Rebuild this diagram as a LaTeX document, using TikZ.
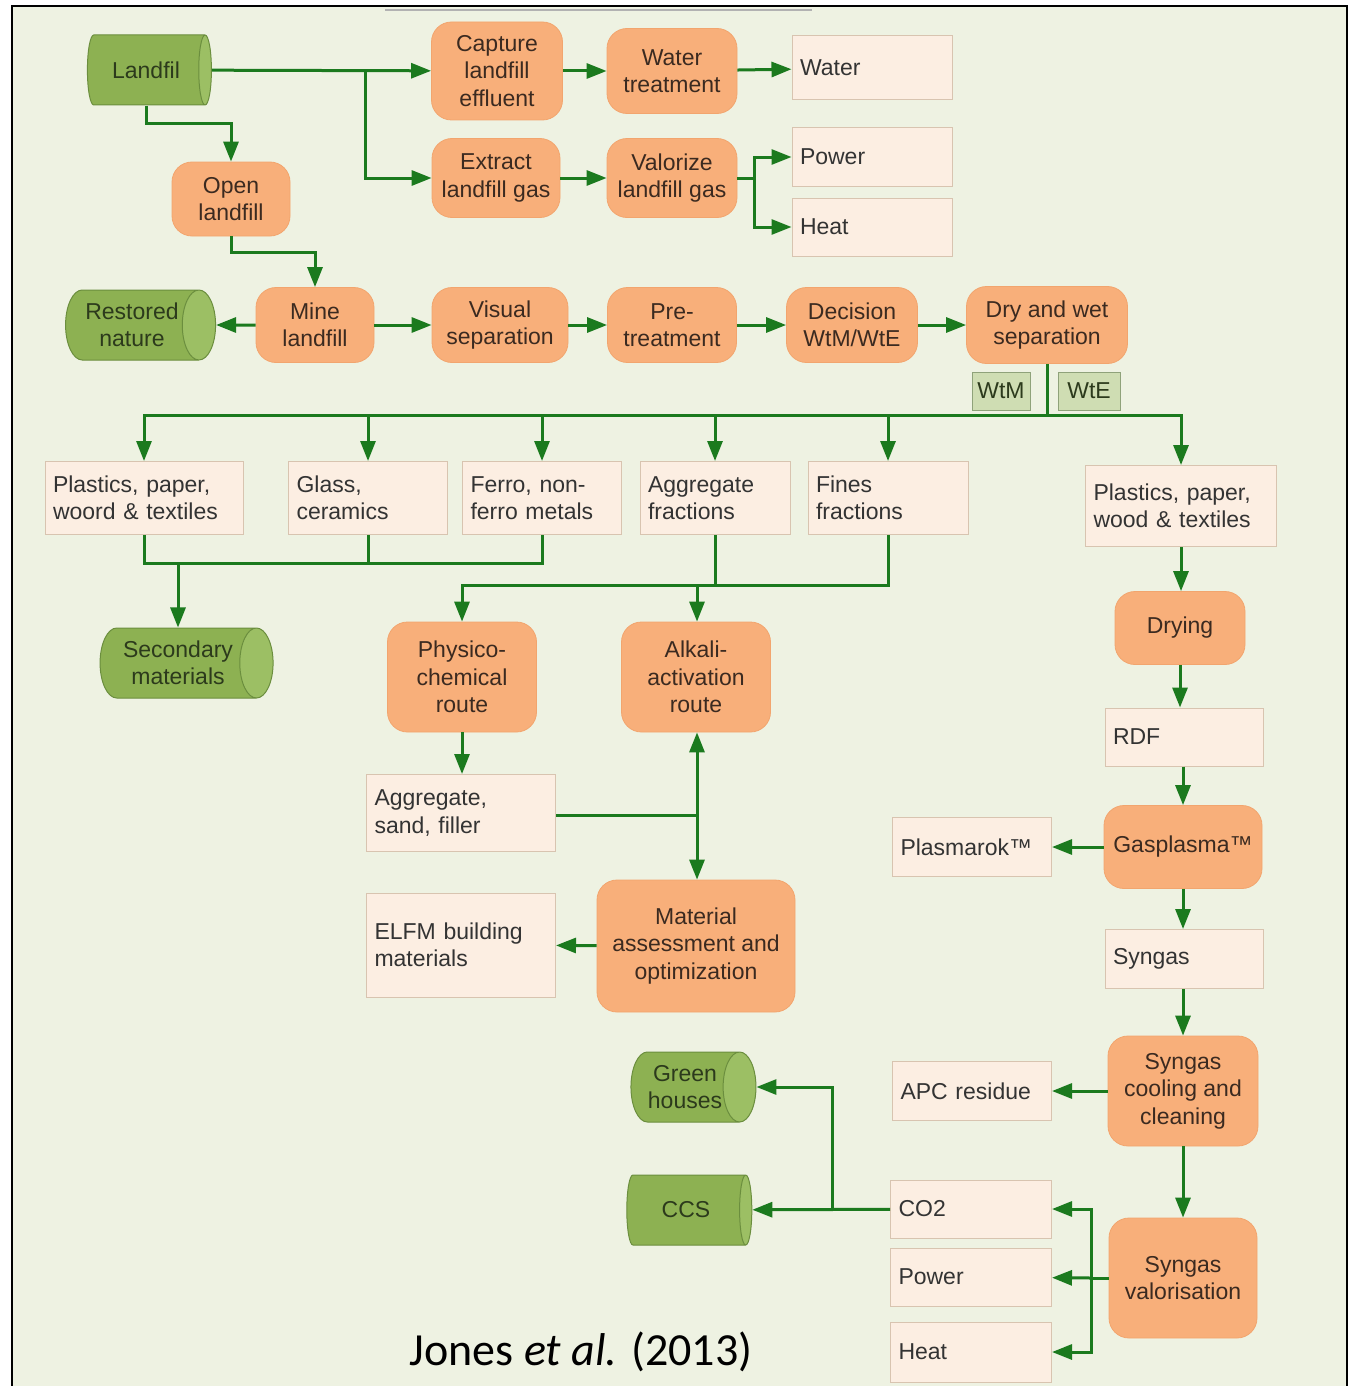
\documentclass[tikz,border=0pt]{standalone}
\usepackage{fontspec}
\setmainfont{Liberation Sans}
\newfontfamily\citefont{Carlito}
\usetikzlibrary{shapes.geometric,arrows.meta}
\definecolor{panelbg}{HTML}{EEF2E2}
\definecolor{flowgreen}{HTML}{1B7A1E}
\definecolor{procfill}{HTML}{F8AF7A}
\definecolor{procline}{HTML}{F2A56E}
\definecolor{outfill}{HTML}{FCEEE2}
\definecolor{outline}{HTML}{D8C4B0}
\definecolor{storefill}{HTML}{8DB152}
\definecolor{storeend}{HTML}{9CBF64}
\definecolor{storeline}{HTML}{6B8E3E}
\definecolor{tagfill}{HTML}{CFDDB3}
\definecolor{tagline}{HTML}{8FA27A}
\definecolor{inkbrown}{HTML}{3B2A20}
\definecolor{inkgray}{HTML}{333333}
\definecolor{inkgreen}{HTML}{2C3A1C}

\begin{document}
\begin{tikzpicture}[x=1pt,y=-1pt,
  every node/.style={font=\fontsize{23}{27.5}\selectfont, text=inkbrown},
  proc/.style={rounded corners=20pt, fill=procfill, draw=procline, line width=0.8pt, align=center, inner sep=0pt},
  outbox/.style={fill=outfill, draw=outline, line width=1pt, align=left, inner xsep=8pt, inner ysep=0pt, text=inkgray},
  store/.style={cylinder, shape aspect=0.75, cylinder uses custom fill, cylinder body fill=storefill, cylinder end fill=storeend, draw=storeline, line width=1pt, align=center, inner sep=0pt, minimum width=70pt, text=inkgreen},
  tag/.style={fill=tagfill, draw=tagline, line width=1pt, inner sep=0pt, text=inkgreen},
  flow/.style={draw=flowgreen, line width=3pt, -{Triangle[length=20pt,width=15pt]}},
  link/.style={draw=flowgreen, line width=3pt}]
\useasboundingbox (0,0) rectangle (1350,1386);
\fill[white] (0,0) rectangle (1350,1386);
\fill[panelbg] (12,6) rectangle (1347,1386);
\draw[black, line width=2.5pt] (12,1386) -- (12,6) -- (1347,6) -- (1347,1386);
\draw[gray!60, line width=2pt] (385,10) -- (812,10);

\node[store, minimum height=124pt] (landfil) at (146,70) {Landfil};
\node[proc, minimum width=131pt, minimum height=98pt] (capture) at (497,71) {Capture\\landfill\\effluent};
\node[proc, minimum width=130pt, minimum height=85pt] (watertr) at (672,71) {Water\\treatment};
\node[outbox, text width=144pt, minimum height=64pt] (water) at (872,68) {Water};
\node[proc, minimum width=128pt, minimum height=79pt] (extract) at (496,178) {Extract\\landfill gas};
\node[proc, minimum width=130pt, minimum height=79pt] (valorize) at (672,178) {Valorize\\landfill gas};
\node[outbox, text width=144pt, minimum height=59pt] (power) at (872,157) {Power};
\node[outbox, text width=144pt, minimum height=58pt] (heat) at (872,227) {Heat};
\node[proc, minimum width=118pt, minimum height=74pt] (open) at (231,199) {Open\\landfill};

\node[store, minimum height=150pt] (restored) at (132,325) {Restored\\nature};
\node[proc, minimum width=118pt, minimum height=75pt] (mine) at (315,325) {Mine\\landfill};
\node[proc, minimum width=136pt, minimum height=75pt] (visual) at (500,325) {Visual\\separation};
\node[proc, minimum width=129pt, minimum height=75pt] (pretreat) at (672,325) {Pre-\\treatment};
\node[proc, minimum width=131pt, minimum height=75pt] (decision) at (852,325) {Decision\\WtM/WtE};
\node[proc, minimum width=161pt, minimum height=77pt] (drywet) at (1047,325) {Dry and wet\\separation};
\node[tag, minimum width=58pt, minimum height=38pt] (wtm) at (1001,391) {WtM};
\node[tag, minimum width=62pt, minimum height=38pt] (wte) at (1089,391) {WtE};

\node[outbox, text width=182pt, minimum height=73pt] (plastics) at (144,498) {Plastics, paper,\\woord \& textiles};
\node[outbox, text width=143pt, minimum height=73pt] (glass) at (368,498) {Glass,\\ceramics};
\node[outbox, text width=143pt, minimum height=73pt] (ferro) at (542,498) {Ferro, non-\\ferro metals};
\node[outbox, text width=134pt, minimum height=73pt] (aggfrac) at (715,498) {Aggregate\\fractions};
\node[outbox, text width=144pt, minimum height=73pt] (fines) at (888,498) {Fines\\fractions};
\node[outbox, text width=175pt, minimum height=81pt] (plasticswte) at (1181,506) {Plastics, paper,\\wood \& textiles};

\node[store, minimum height=173pt] (secmat) at (178,663) {Secondary\\materials};
\node[proc, minimum width=149pt, minimum height=110pt] (physico) at (462,677) {Physico-\\chemical\\route};
\node[proc, minimum width=149pt, minimum height=110pt] (alkali) at (696,677) {Alkali-\\activation\\route};
\node[outbox, text width=173pt, minimum height=77pt] (aggsand) at (461,813) {Aggregate,\\sand, filler};
\node[proc, minimum width=198pt, minimum height=132pt] (material) at (696,946) {Material\\assessment and\\optimization};
\node[outbox, text width=173pt, minimum height=104pt] (elfm) at (461,945) {ELFM building\\materials};

\node[proc, minimum width=130pt, minimum height=73pt] (drying) at (1180,628) {Drying};
\node[outbox, text width=142pt, minimum height=58pt] (rdf) at (1184,737) {RDF};
\node[proc, minimum width=158pt, minimum height=83pt] (gasplasma) at (1183,847) {Gasplasma™};
\node[outbox, text width=143pt, minimum height=59pt] (plasmarok) at (972,847) {Plasmarok™};
\node[outbox, text width=142pt, minimum height=59pt] (syngas) at (1184,959) {Syngas};
\node[proc, minimum width=150pt, minimum height=110pt] (cooling) at (1183,1091) {Syngas\\cooling and\\cleaning};
\node[outbox, text width=143pt, minimum height=59pt] (apc) at (972,1091) {APC residue};
\node[proc, minimum width=148pt, minimum height=120pt] (valor) at (1183,1278) {Syngas\\valorisation};
\node[outbox, text width=145pt, minimum height=58pt] (co2) at (971,1209) {CO2};
\node[outbox, text width=145pt, minimum height=58pt] (powerb) at (971,1277) {Power};
\node[outbox, text width=145pt, minimum height=60pt] (heatb) at (971,1352) {Heat};
\node[store, minimum height=125pt] (green) at (685,1087) {Green\\houses};
\node[store, minimum height=125pt] (ccs) at (686,1210) {CCS};

\node[font=\citefont\fontsize{46}{50}\selectfont, text=black] (cite) at (581,1352) {Jones \textit{et al.} (2013)};

\coordinate (lsplit) at (365,70);
\coordinate (vsplit) at (754,178);
\coordinate (wsplit) at (1047,415);
\coordinate (m1) at (178,563);
\coordinate (m2) at (697,585);
\coordinate (m3) at (697,815);
\coordinate (vbar) at (1091,1278);
\coordinate (gsplit) at (832,1209);

\draw[flow] (landfil) -- (capture);
\draw[flow] (lsplit) |- (extract);
\draw[flow] (landfil.south) -- ++(0,18) -| (open.north);
\draw[flow] (capture) -- (watertr);
\draw[flow] (watertr) -- (water);
\draw[flow] (extract) -- (valorize);
\draw[link] (valorize) -- (vsplit);
\draw[flow] (vsplit) |- (power.west);
\draw[flow] (vsplit) |- (heat.west);
\draw[flow] (open.south) -- ++(0,16) -| (mine.north);
\draw[flow] (mine) -- (restored);
\draw[flow] (mine) -- (visual);
\draw[flow] (visual) -- (pretreat);
\draw[flow] (pretreat) -- (decision);
\draw[flow] (decision) -- (drywet);

\draw[link] (drywet.south) -- (wsplit);
\draw[flow] (wsplit) -| (plastics.north);
\draw[flow] (wsplit) -| (glass.north);
\draw[flow] (wsplit) -| (ferro.north);
\draw[flow] (wsplit) -| (aggfrac.north);
\draw[flow] (wsplit) -| (fines.north);
\draw[flow] (wsplit) -| (plasticswte.north);

\draw[link] (plastics.south) |- (m1);
\draw[link] (glass.south) |- (m1);
\draw[link] (ferro.south) |- (m1);
\draw[flow] (m1) -- (secmat.north -| m1);
\draw[link] (aggfrac.south) |- (m2);
\draw[link] (fines.south) |- (m2);
\draw[flow] (m2) -| (physico.north);
\draw[flow] (m2) -- (alkali.north -| m2);
\draw[flow] (physico.south) -- (physico.south |- aggsand.north);
\draw[link] (aggsand.east |- m3) -- (m3);
\draw[flow] (m3) -- (alkali.south -| m3);
\draw[flow] (m3) -- (material.north -| m3);
\draw[flow] (material) -- (elfm);

\draw[flow] (plasticswte.south) -- (plasticswte.south |- drying.north);
\draw[flow] (drying.south) -- (drying.south |- rdf.north);
\draw[flow] (rdf.south -| gasplasma) -- (gasplasma.north);
\draw[flow] (gasplasma) -- (plasmarok);
\draw[flow] (gasplasma.south) -- (gasplasma.south |- syngas.north);
\draw[flow] (syngas.south -| cooling) -- (cooling.north);
\draw[flow] (cooling) -- (apc);
\draw[flow] (cooling.south) -- (valor.north);
\draw[link] (valor) -- (vbar);
\draw[flow] (vbar) |- (co2.east);
\draw[flow] (vbar) -- (powerb);
\draw[flow] (vbar) |- (heatb.east);
\draw[flow] (co2) -- (ccs);
\draw[flow] (gsplit) |- (green.east);
\end{tikzpicture}
\end{document}
